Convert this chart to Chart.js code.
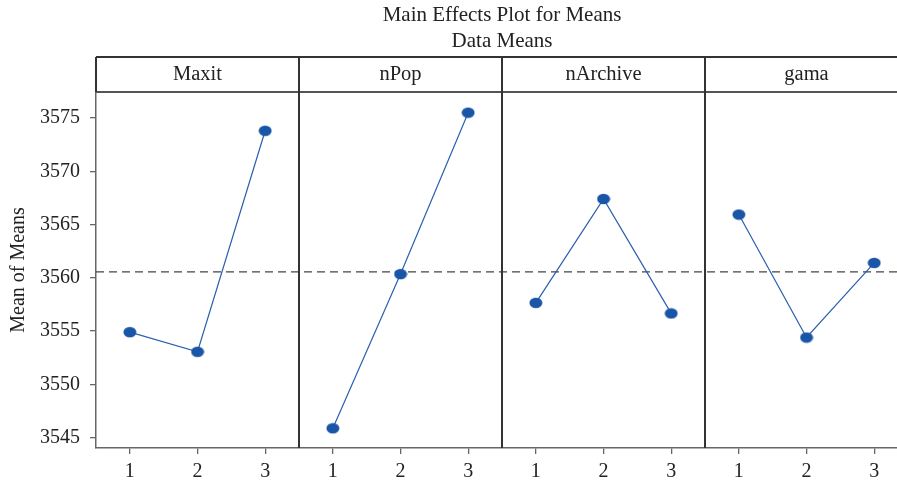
<!DOCTYPE html>
<html>
<head>
<meta charset="utf-8">
<script src="https://cdn.jsdelivr.net/npm/chart.js@4/dist/chart.umd.min.js"></script>
<style>
  html, body { margin: 0; padding: 0; background: #fff; overflow: hidden; }
  canvas { display: block; }
</style>
</head>
<body>
<canvas id="effectsChart" width="897" height="481"></canvas>
<script>
const titleLines = ['Main Effects Plot for Means', 'Data Means'];
const factors = ['Maxit', 'nPop', 'nArchive', 'gama'];
const levels = [1, 2, 3];
const maxitMeans = [3554.9, 3553.06, 3573.8];
const nPopMeans = [3545.88, 3560.35, 3575.5];
const nArchiveMeans = [3557.65, 3567.4, 3556.66];
const gamaMeans = [3565.94, 3554.4, 3561.4];
const grandMean = 3560.55;
const yTicks = [3545, 3550, 3555, 3560, 3565, 3570, 3575];

const serif = "'Liberation Serif', 'DejaVu Serif', serif";
const blue = '#1a56a8';
const allMeans = [maxitMeans, nPopMeans, nArchiveMeans, gamaMeans];

// x positions: each factor panel holds 3 levels, panels follow each other
const xMin = 0.5;
const xMax = 12.337;  // last panel is cut by the right edge

// ellipse marker
const dot = document.createElement('canvas');
dot.width = 14;
dot.height = 12;
const dctx = dot.getContext('2d');
dctx.fillStyle = blue;
dctx.beginPath();
dctx.ellipse(7, 6, 6.5, 5.2, 0, 0, Math.PI * 2);
dctx.fill();

const datasets = allMeans.map((means, f) => ({
  label: factors[f],
  data: means.map((m, i) => ({ x: f * levels.length + levels[i], y: m })),
  borderColor: '#2b5fae',
  borderWidth: 1.2,
  pointStyle: dot,
  pointRadius: 6,
  order: 1
}));

datasets.push({
  label: 'mean',
  data: [{ x: xMin, y: grandMean }, { x: xMax, y: grandMean }],
  borderColor: '#444',
  borderWidth: 1.3,
  borderDash: [8, 5],
  pointRadius: 0,
  order: 2
});

const panelPlugin = {
  id: 'panels',
  afterDraw(chart) {
    const ctx = chart.ctx;
    const area = chart.chartArea;
    const x = chart.scales.x;
    const stripTop = 57;
    ctx.save();

    // strip box
    ctx.strokeStyle = '#555';
    ctx.lineWidth = 2;
    ctx.beginPath();
    ctx.moveTo(area.left, area.top);
    ctx.lineTo(chart.width, area.top);
    ctx.stroke();
    ctx.strokeStyle = '#333';
    ctx.beginPath();
    ctx.moveTo(area.left, stripTop);
    ctx.lineTo(chart.width, stripTop);
    ctx.moveTo(area.left, stripTop);
    ctx.lineTo(area.left, area.top);
    ctx.stroke();

    // panel dividers
    for (let f = 1; f < factors.length; f++) {
      const px = Math.round(x.getPixelForValue(f * levels.length + 0.5));
      ctx.beginPath();
      ctx.moveTo(px, stripTop);
      ctx.lineTo(px, area.bottom);
      ctx.stroke();
    }

    // strip labels
    ctx.fillStyle = '#222';
    ctx.font = '20.5px ' + serif;
    ctx.textAlign = 'center';
    ctx.textBaseline = 'middle';
    factors.forEach((name, f) => {
      ctx.fillText(name, x.getPixelForValue(f * levels.length + 2), (stripTop + area.top) / 2);
    });

    // title
    const cx = x.getPixelForValue(factors.length * levels.length / 2 + 0.5);
    ctx.font = '21px ' + serif;
    ctx.fillText(titleLines[0], cx, 15);
    ctx.fillText(titleLines[1], cx, 41);
    ctx.restore();
  }
};

new Chart(document.getElementById('effectsChart'), {
  type: 'line',
  data: { datasets: datasets },
  options: {
    responsive: false,
    animation: false,
    layout: { autoPadding: false, padding: { top: 92, right: 0, bottom: 0, left: 0 } },
    plugins: {
      legend: { display: false },
      tooltip: { enabled: false },
      title: { display: false }
    },
    scales: {
      x: {
        type: 'linear',
        min: xMin,
        max: xMax,
        afterBuildTicks: (scale) => {
          scale.ticks = [];
          factors.forEach((name, f) => levels.forEach(l => scale.ticks.push({ value: f * levels.length + l })));
        },
        afterFit: (scale) => {
          scale.height = 33;
          scale.paddingLeft = 0;
          scale.paddingRight = 0;
        },
        grid: { drawOnChartArea: false, tickLength: 6, color: '#666', lineWidth: 1.3 },
        border: { color: '#666', width: 1.5 },
        ticks: {
          autoSkip: false,
          maxRotation: 0,
          padding: 6,
          color: '#222',
          font: { family: serif, size: 20 },
          callback: (v) => levels[(v - 1) % levels.length]
        }
      },
      y: {
        min: 3544.03,
        max: 3577.44,
        afterBuildTicks: (scale) => { scale.ticks = yTicks.map(v => ({ value: v })); },
        afterFit: (scale) => { scale.width = 96; },
        grid: { drawOnChartArea: false, tickLength: 6, color: '#666', lineWidth: 1.3 },
        border: { color: '#666', width: 1.5 },
        title: {
          display: true,
          text: 'Mean of Means',
          color: '#222',
          font: { family: serif, size: 20 },
          padding: { top: 7, bottom: 0 }
        },
        ticks: {
          padding: 10,
          color: '#222',
          font: { family: serif, size: 20 },
          callback: (v) => String(v)
        }
      }
    }
  },
  plugins: [panelPlugin]
});
</script>
</body>
</html>
